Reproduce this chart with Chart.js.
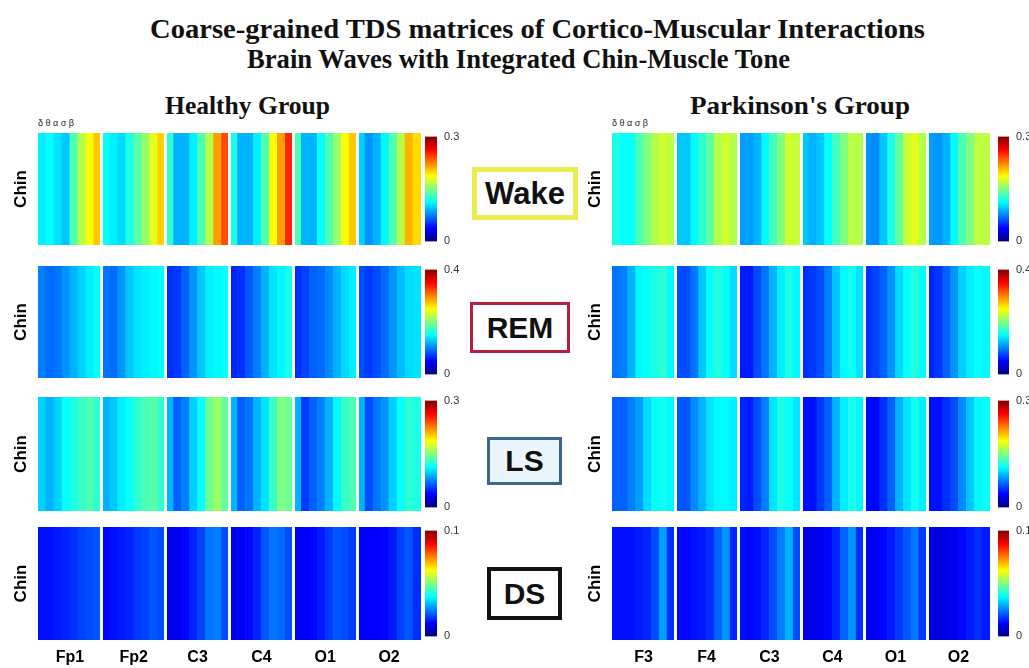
<!DOCTYPE html>
<html><head><meta charset="utf-8">
<script src="https://cdn.jsdelivr.net/npm/chart.js@4.4.0/dist/chart.umd.min.js"></script>
<style>
html,body{margin:0;padding:0;background:#fff;width:1029px;height:668px;overflow:hidden;position:relative;font-family:"Liberation Sans",Arial,sans-serif}
canvas{position:absolute;display:block}
.fit{position:absolute;white-space:nowrap;transform-origin:0 0;font-family:"Liberation Serif","Times New Roman",serif;font-weight:bold;color:#111;line-height:1}
.box{position:absolute;box-sizing:border-box;display:flex;align-items:center;justify-content:center;font-weight:bold;font-family:"Liberation Sans",Arial,sans-serif;color:#111}
.tiny{position:absolute;font-size:9px;color:#222;white-space:nowrap}
</style></head><body>
<div class="fit" id="t1" style="top:15px;font-size:28px">Coarse-grained TDS matrices of Cortico-Muscular Interactions</div>
<div class="fit" id="t2" style="top:45px;font-size:28px">Brain Waves with Integrated Chin-Muscle Tone</div>
<div class="fit" id="g1" style="top:93px;font-size:25px">Healthy Group</div>
<div class="fit" id="g2" style="top:93px;font-size:25px">Parkinson's Group</div>
<div class="tiny" style="left:38px;top:118px">δ θ α σ β</div>
<div class="tiny" style="left:612px;top:118px">δ θ α σ β</div>
<div class="box" style="left:472px;top:167px;width:106px;height:53px;border:5px solid #ecec50;font-size:31px">Wake</div>
<div class="box" style="left:470px;top:302px;width:100px;height:51px;border:3px solid #b3213f;font-size:30px">REM</div>
<div class="box" style="left:487px;top:437px;width:75px;height:48px;border:3px solid #3b6690;background:#eaf5fc;font-size:30px">LS</div>
<div class="box" style="left:487px;top:567px;width:75px;height:53px;border:4px solid #111;font-size:30px">DS</div>
<script>
// ---------- data ----------
const healthyChannels = ['Fp1','Fp2','C3','C4','O1','O2'];
const parkinsonChannels = ['F3','F4','C3','C4','O1','O2'];
const stages = ['Wake','REM','LS','DS'];
const colorbarTopLabels = ['0.3','0.4','0.3','0.1'];
const colorbarBottomLabels = ['0','0','0','0'];

const healthyWake = [
0.36,0.38,0.35,0.32,0.45,0.55,0.62,0.68,
0.38,0.36,0.34,0.40,0.46,0.52,0.60,0.67,
0.42,0.30,0.30,0.36,0.45,0.55,0.72,0.80,
0.40,0.30,0.30,0.36,0.45,0.62,0.72,0.84,
0.45,0.30,0.30,0.38,0.45,0.52,0.62,0.68,
0.33,0.27,0.30,0.37,0.45,0.55,0.70,0.66];
const parkinsonWake = [
0.40,0.38,0.38,0.45,0.50,0.55,0.58,0.56,
0.32,0.32,0.37,0.42,0.47,0.55,0.58,0.55,
0.28,0.28,0.30,0.37,0.44,0.50,0.58,0.57,
0.32,0.30,0.32,0.38,0.44,0.50,0.56,0.55,
0.27,0.26,0.32,0.40,0.47,0.57,0.60,0.55,
0.28,0.27,0.30,0.37,0.45,0.50,0.56,0.56];
const healthyREM = [
0.25,0.23,0.24,0.27,0.30,0.33,0.36,0.38,
0.24,0.23,0.27,0.32,0.35,0.36,0.37,0.38,
0.17,0.18,0.22,0.27,0.32,0.36,0.37,0.38,
0.16,0.17,0.21,0.25,0.30,0.35,0.37,0.40,
0.17,0.19,0.22,0.23,0.26,0.30,0.34,0.36,
0.20,0.18,0.20,0.23,0.27,0.31,0.34,0.35];
const parkinsonREM = [
0.24,0.25,0.30,0.37,0.38,0.40,0.42,0.37,
0.20,0.20,0.24,0.32,0.38,0.41,0.38,0.34,
0.15,0.15,0.20,0.24,0.30,0.36,0.40,0.37,
0.17,0.18,0.20,0.25,0.32,0.37,0.39,0.35,
0.17,0.19,0.22,0.27,0.34,0.38,0.41,0.37,
0.16,0.18,0.22,0.27,0.33,0.36,0.38,0.37];
const healthyLS = [
0.33,0.30,0.33,0.38,0.40,0.43,0.45,0.42,
0.30,0.32,0.36,0.38,0.42,0.45,0.46,0.42,
0.30,0.22,0.25,0.33,0.38,0.48,0.53,0.47,
0.30,0.22,0.24,0.30,0.35,0.43,0.50,0.48,
0.30,0.18,0.22,0.25,0.30,0.37,0.43,0.45,
0.30,0.20,0.24,0.27,0.33,0.38,0.42,0.40];
const parkinsonLS = [
0.22,0.22,0.25,0.28,0.34,0.38,0.39,0.37,
0.21,0.21,0.26,0.30,0.35,0.37,0.37,0.36,
0.16,0.15,0.20,0.25,0.35,0.40,0.38,0.35,
0.14,0.14,0.18,0.22,0.30,0.36,0.40,0.37,
0.13,0.13,0.17,0.22,0.30,0.35,0.39,0.36,
0.14,0.14,0.17,0.20,0.26,0.32,0.37,0.38];
const healthyDS = [
0.14,0.14,0.15,0.16,0.17,0.19,0.20,0.21,
0.13,0.14,0.15,0.16,0.18,0.19,0.21,0.20,
0.11,0.11,0.13,0.16,0.19,0.24,0.25,0.20,
0.11,0.11,0.13,0.16,0.21,0.24,0.23,0.20,
0.12,0.12,0.13,0.15,0.18,0.21,0.20,0.18,
0.12,0.12,0.12,0.13,0.15,0.19,0.21,0.17];
const parkinsonDS = [
0.14,0.14,0.14,0.15,0.16,0.20,0.28,0.17,
0.13,0.13,0.14,0.15,0.17,0.22,0.27,0.16,
0.14,0.13,0.14,0.16,0.20,0.25,0.30,0.20,
0.10,0.10,0.11,0.13,0.16,0.22,0.27,0.17,
0.11,0.12,0.13,0.15,0.18,0.21,0.24,0.18,
0.09,0.09,0.10,0.11,0.13,0.15,0.17,0.15];

const healthySeries = [healthyWake, healthyREM, healthyLS, healthyDS];
const parkinsonSeries = [parkinsonWake, parkinsonREM, parkinsonLS, parkinsonDS];

// ---------- layout / style ----------
const rowTops = [133, 266, 397, 527];
const rowHeights = [112, 112, 114, 113];
const columns = [
  {series: healthySeries, channels: healthyChannels, canvasLeft: 0, areaLeft: 38, areaRight: 421, titlePad: 11, cbLeft: 425, cbWidth: 12},
  {series: parkinsonSeries, channels: parkinsonChannels, canvasLeft: 576, areaLeft: 612, areaRight: 990, titlePad: 9, cbLeft: 998, cbWidth: 11}
];
const SANS = '"Liberation Sans", Arial, sans-serif';

function jet(t){
  t = Math.max(0, Math.min(1, t));
  const f = x => Math.round(255 * Math.max(0, Math.min(1, 1.5 - Math.abs(4 * t - x))));
  return 'rgb(' + f(3) + ',' + f(2) + ',' + f(1) + ')';
}

function makeCanvas(left, top, w, h){
  const c = document.createElement('canvas');
  c.width = w; c.height = h;
  c.style.left = left + 'px'; c.style.top = top + 'px';
  c.style.width = w + 'px'; c.style.height = h + 'px';
  document.body.appendChild(c);
  return c;
}

columns.forEach(col => {
  stages.forEach((stage, r) => {
    const values = col.series[r];
    const showX = (r === stages.length - 1);
    const extra = showX ? 28 : 0;
    const yw = col.areaLeft - col.canvasLeft;
    const cv = makeCanvas(col.canvasLeft, rowTops[r], col.areaRight - col.canvasLeft, rowHeights[r] + extra);
    new Chart(cv, {
      type: 'bar',
      data: {
        labels: values.map((v, i) => String(i)),
        datasets: [{
          data: values.map(() => [0, 1]),
          backgroundColor: values.map(jet),
          borderWidth: 0,
          barPercentage: 1,
          categoryPercentage: 1
        }]
      },
      options: {
        animation: false, responsive: false, maintainAspectRatio: false, devicePixelRatio: 1,
        layout: {padding: 0},
        events: [],
        plugins: {legend: {display: false}, tooltip: {enabled: false}},
        scales: {
          x: {display: false, offset: true},
          xg: {
            type: 'category', labels: col.channels, offset: true, position: 'bottom',
            grid: {display: true, offset: true, z: 1, lineWidth: 3, drawTicks: false, drawOnChartArea: true,
                   color: c => (c.index > 0 && c.index < col.channels.length) ? '#f4fbff' : 'rgba(0,0,0,0)'},
            border: {display: false},
            ticks: {display: showX, padding: 8, autoSkip: false, maxRotation: 0, color: '#000',
                    font: {size: 16, weight: 'bold', family: SANS}},
            afterFit: s => { s.height = extra; }
          },
          y: {
            min: 0, max: 1, position: 'left',
            grid: {display: false}, border: {display: false},
            ticks: {display: false},
            title: {display: true, text: 'Chin', color: '#000', padding: {top: col.titlePad, bottom: 0},
                    font: {size: 17, weight: 'bold', family: SANS}},
            afterFit: s => { s.width = yw; }
          }
        }
      }
    });

    // colour bar
    const cbCanvasW = 60;
    const cb = makeCanvas(col.cbLeft, rowTops[r] - 10, cbCanvasW, rowHeights[r] + 20);
    const topLab = colorbarTopLabels[r], botLab = colorbarBottomLabels[r];
    new Chart(cb, {
      type: 'bar',
      data: {labels: [''], datasets: [{
        data: [[0, 1]],
        borderWidth: 0, barPercentage: 1, categoryPercentage: 1,
        backgroundColor: ctx => {
          const ch = ctx.chart, a = ch.chartArea;
          if (!a) return '#0000ff';
          const g = ch.ctx.createLinearGradient(0, a.bottom, 0, a.top);
          g.addColorStop(0, '#000080'); g.addColorStop(0.125, '#0000ff');
          g.addColorStop(0.375, '#00ffff'); g.addColorStop(0.625, '#ffff00');
          g.addColorStop(0.875, '#ff0000'); g.addColorStop(1, '#800000');
          return g;
        }
      }]},
      options: {
        animation: false, responsive: false, maintainAspectRatio: false, devicePixelRatio: 1,
        layout: {padding: {top: 10, bottom: 10}},
        events: [],
        plugins: {legend: {display: false}, tooltip: {enabled: false}},
        scales: {
          x: {display: false},
          y: {
            min: 0, max: 1, position: 'right',
            grid: {display: false, drawTicks: false}, border: {display: false},
            afterBuildTicks: s => { s.ticks = [{value: 0}, {value: 1}]; },
            ticks: {padding: 7, color: '#333', font: {size: 11, family: SANS},
                    callback: v => (v === 1 ? topLab : botLab)},
            afterFit: s => { s.width = cbCanvasW - col.cbWidth; }
          }
        }
      }
    });
  });
});

// fit headings to their measured spans
function fit(id, left, right){
  const el = document.getElementById(id);
  const w = el.getBoundingClientRect().width;
  el.style.left = left + 'px';
  el.style.transform = 'scaleX(' + ((right - left) / w) + ')';
}
fit('t1', 150, 925);
fit('t2', 247, 790);
fit('g1', 165, 330);
fit('g2', 690, 910);
</script>
</body></html>
